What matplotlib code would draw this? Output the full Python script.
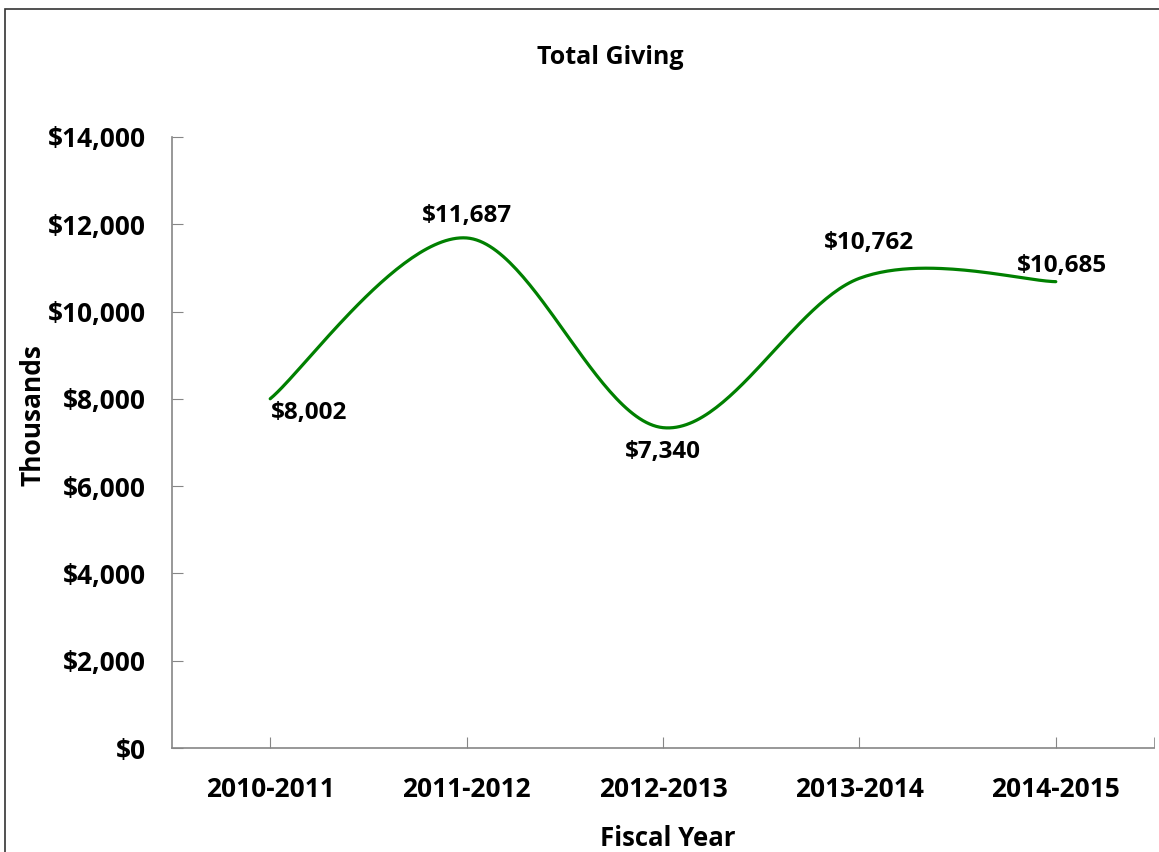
import numpy as np
import matplotlib.pyplot as plt
from matplotlib.patches import Rectangle

years = ["2010-2011", "2011-2012", "2012-2013", "2013-2014", "2014-2015"]
giving = [8002, 11687, 7340, 10762, 10685]
labels = ["$8,002", "$11,687", "$7,340", "$10,762", "$10,685"]

plt.rcParams['font.family'] = ['Open Sans', 'DejaVu Sans']
plt.rcParams['font.weight'] = 'bold'


def smooth(xs, ys, n=60):
    # excel style bezier smoothing (catmull-rom, tension 1/6)
    xs = np.asarray(xs, float)
    ys = np.asarray(ys, float)
    px, py = [], []
    for i in range(len(xs) - 1):
        x0, y0 = (xs[i - 1], ys[i - 1]) if i > 0 else (xs[i], ys[i])
        x3, y3 = (xs[i + 2], ys[i + 2]) if i + 2 < len(xs) else (xs[i + 1], ys[i + 1])
        x1, y1 = xs[i], ys[i]
        x2, y2 = xs[i + 1], ys[i + 1]
        c1x, c1y = x1 + (x2 - x0) / 6, y1 + (y2 - y0) / 6
        c2x, c2y = x2 - (x3 - x1) / 6, y2 - (y3 - y1) / 6
        t = np.linspace(0, 1, n)
        bx = (1-t)**3*x1 + 3*(1-t)**2*t*c1x + 3*(1-t)*t**2*c2x + t**3*x2
        by = (1-t)**3*y1 + 3*(1-t)**2*t*c1y + 3*(1-t)*t**2*c2y + t**3*y2
        px.extend(bx)
        py.extend(by)
    return np.array(px), np.array(py)


fig = plt.figure(figsize=(11.59, 8.52), dpi=100)
fig.patches.append(Rectangle((5 / 1159, -0.1), 1.2, 1 - 9 / 852 + 0.1, transform=fig.transFigure,
                             fill=False, edgecolor='#333333', linewidth=1.2))
ax = fig.add_axes([172 / 1159, 1 - 748 / 852, (1154 - 172) / 1159, (748 - 137) / 852])

x = np.arange(len(years))
sx, sy = smooth(x, giving)
ax.plot(sx, sy, color='#008000', linewidth=2.3, solid_capstyle='round')

# label offsets in pixels
offsets = [(39, -14), (0, 22), (0, -24), (10, 35), (6, 16)]
for i, (lab, (dx, dy)) in enumerate(zip(labels, offsets)):
    ax.annotate(lab, (x[i], giving[i]), xytext=(dx * 0.72, dy * 0.72), textcoords='offset points',
                ha='center', va='center', fontsize=17.5, fontweight='bold')

ax.set_xlim(-0.5, 4.5)
ax.set_ylim(0, 14000)
ax.set_xticks(x)
ax.set_xticklabels(years)
ax.set_xticks([4.5], minor=True)
ax.set_yticks(np.arange(0, 14001, 2000))
ax.set_yticklabels(["${:,}".format(v) for v in range(0, 14001, 2000)])
ax.tick_params(axis='both', which='both', direction='in', length=8, color='#868686', labelsize=19)
ax.tick_params(axis='x', pad=20)
ax.tick_params(axis='y', pad=19)
for s in ['top', 'right']:
    ax.spines[s].set_visible(False)
for s in ['left', 'bottom']:
    ax.spines[s].set_color('#868686')
    ax.spines[s].set_linewidth(1.2)

fig.text(668 / 1159, 1 - 838 / 852, "Fiscal Year", ha='center', va='center',
         fontsize=18.5, fontweight='bold')
fig.text(33 / 1159, 1 - 415 / 852, "Thousands", ha='center', va='center', rotation=90,
         fontsize=19, fontweight='bold')
fig.text(610 / 1159, 1 - 58 / 852, "Total Giving", ha='center', va='center',
         fontsize=18, fontweight='bold')

fig.savefig("out.png", dpi=100)
